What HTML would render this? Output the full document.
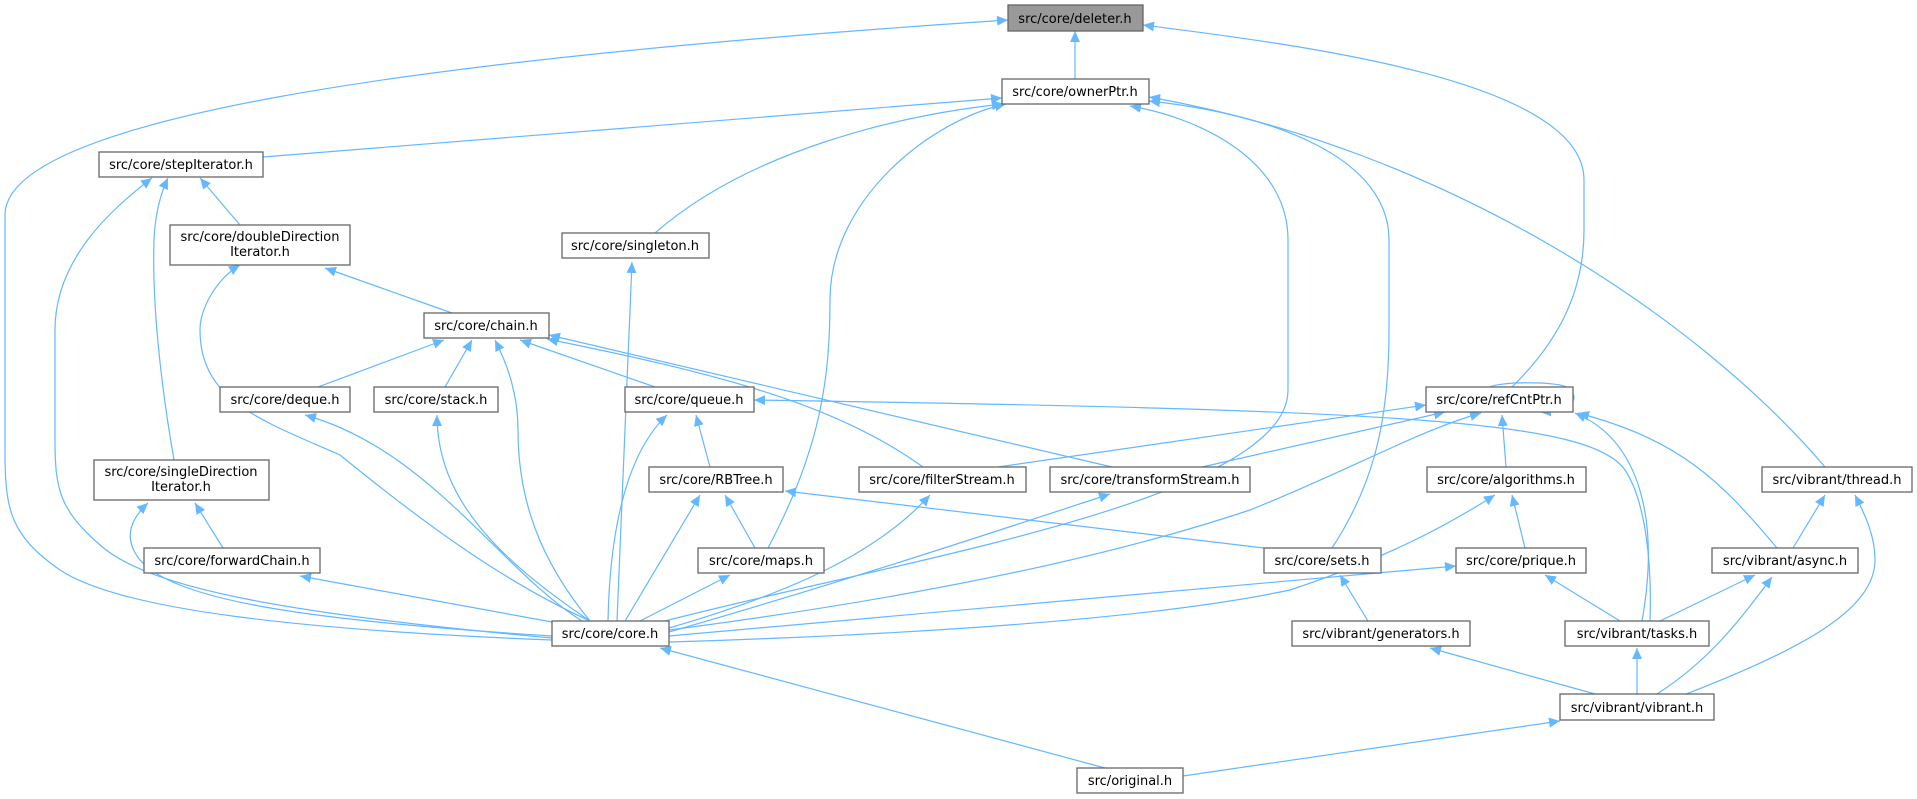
<!DOCTYPE html>
<html><head><meta charset="utf-8"><style>
html,body{margin:0;padding:0;background:#fff;}
svg{display:block}
text{font-family:"DejaVu Sans","Liberation Sans",sans-serif;font-size:13px;fill:#000;text-anchor:middle}
.n{fill:#fff;stroke:#666;stroke-width:1.3}
.e{fill:none;stroke:#63b8ff;stroke-width:1.2}
</style></head><body>
<svg width="1917" height="799" viewBox="0 0 1917 799" xmlns="http://www.w3.org/2000/svg">
<defs><marker id="a" markerWidth="12" markerHeight="10" refX="11" refY="5" orient="auto" markerUnits="userSpaceOnUse"><path d="M0,0 L11,5 L0,10 z" fill="#63b8ff"/></marker></defs>
<g class="e" marker-end="url(#a)">
<path d="M1075,79 L1075,31"/>
<path d="M552,640 C300,630 120,610 60,570 C10,535 5,510 5,450 L5,215 C5,120 400,60 1008,20"/>
<path d="M1512,387 C1560,340 1584,290 1584,230 L1584,180 C1584,80 1300,45 1143,25"/>
<path d="M263,157 L1002,98"/>
<path d="M655,233 C750,150 900,115 1003,104"/>
<path d="M768,548 C820,450 830,380 830,300 C830,200 930,120 1006,104"/>
<path d="M665,621 C900,560 1288,500 1288,390 L1288,240 C1288,160 1200,118 1130,106"/>
<path d="M1332,548 C1370,490 1389,430 1389,330 L1389,240 C1389,160 1280,115 1149,101"/>
<path d="M1825,467 C1700,320 1450,150 1149,97"/>
<path d="M240,225 L200,178"/>
<path d="M174,460 C160,380 152,300 154,240 C155,215 160,195 168,178"/>
<path d="M552,638 C300,615 150,590 100,545 C60,510 55,490 55,440 L55,330 C55,260 110,210 152,178"/>
<path d="M452,313 L325,268"/>
<path d="M590,621 C500,580 420,520 340,455 C260,420 200,400 200,330 C200,310 215,280 240,265"/>
<path d="M617,621 L632,262"/>
<path d="M318,387 L444,340"/>
<path d="M445,387 L472,340"/>
<path d="M655,387 L520,340"/>
<path d="M590,621 C540,560 518,500 518,430 C518,390 505,360 495,340"/>
<path d="M923,467 C830,400 700,370 547,339"/>
<path d="M1112,467 L549,335"/>
<path d="M582,621 C500,570 430,450 305,415"/>
<path d="M590,621 C500,560 437,500 437,415"/>
<path d="M710,467 L696,415"/>
<path d="M608,621 C610,520 630,450 667,415"/>
<path d="M1650,621 C1652,560 1645,500 1625,470 C1590,420 1400,410 754,400"/>
<path d="M1486,389 C1496,380 1560,382 1566,387 C1580,395 1578,410 1540,412"/>
<path d="M998,467 L1426,405"/>
<path d="M1202,467 L1445,412"/>
<path d="M1506,467 L1502,415"/>
<path d="M669,630 C900,600 1100,560 1250,510 C1350,470 1420,430 1481,413"/>
<path d="M1642,621 C1660,520 1640,440 1575,413"/>
<path d="M1777,548 C1720,480 1680,440 1578,413"/>
<path d="M223,548 L195,503"/>
<path d="M552,636 C300,620 175,600 140,560 C120,535 135,515 148,503"/>
<path d="M755,548 L725,495"/>
<path d="M625,621 L700,495"/>
<path d="M1264,548 L785,491"/>
<path d="M669,628 C800,590 880,550 930,495"/>
<path d="M669,632 C850,580 1000,530 1110,494"/>
<path d="M669,642 C900,635 1150,620 1290,590 C1380,560 1440,530 1495,495"/>
<path d="M1525,548 L1512,495"/>
<path d="M1793,548 L1825,495"/>
<path d="M1686,694 C1800,650 1875,610 1875,560 C1875,535 1865,515 1855,495"/>
<path d="M552,622 L300,576"/>
<path d="M640,621 L730,575"/>
<path d="M1368,621 L1340,575"/>
<path d="M669,636 L1456,566"/>
<path d="M1620,621 L1545,575"/>
<path d="M1660,621 L1755,575"/>
<path d="M1657,694 C1710,660 1740,620 1772,577"/>
<path d="M1105,768 L660,648"/>
<path d="M1595,694 L1430,648"/>
<path d="M1637,694 L1637,648"/>
<path d="M1183,776 L1560,721"/>
</g>
<rect x="1008" y="5" width="135" height="26" fill="#999" stroke="#666" stroke-width="1.3"/><text x="1075" y="23">src/core/deleter.h</text>
<rect class="n" x="1002" y="79" width="147" height="25"/><text x="1075" y="96">src/core/ownerPtr.h</text>
<rect class="n" x="99" y="152" width="164" height="25"/><text x="181" y="169">src/core/stepIterator.h</text>
<rect class="n" x="170" y="225" width="180" height="40"/><text x="260" y="241">src/core/doubleDirection</text><text x="260" y="256">Iterator.h</text>
<rect class="n" x="562" y="233" width="147" height="25"/><text x="635" y="250">src/core/singleton.h</text>
<rect class="n" x="424" y="313" width="125" height="25"/><text x="486" y="330">src/core/chain.h</text>
<rect class="n" x="220" y="387" width="130" height="25"/><text x="285" y="404">src/core/deque.h</text>
<rect class="n" x="374" y="387" width="124" height="25"/><text x="436" y="404">src/core/stack.h</text>
<rect class="n" x="625" y="387" width="129" height="25"/><text x="689" y="404">src/core/queue.h</text>
<rect class="n" x="1426" y="387" width="147" height="25"/><text x="1499" y="404">src/core/refCntPtr.h</text>
<rect class="n" x="94" y="460" width="175" height="40"/><text x="181" y="476">src/core/singleDirection</text><text x="181" y="491">Iterator.h</text>
<rect class="n" x="649" y="467" width="134" height="25"/><text x="716" y="484">src/core/RBTree.h</text>
<rect class="n" x="859" y="467" width="167" height="25"/><text x="942" y="484">src/core/filterStream.h</text>
<rect class="n" x="1050" y="467" width="200" height="25"/><text x="1150" y="484">src/core/transformStream.h</text>
<rect class="n" x="1427" y="467" width="159" height="25"/><text x="1506" y="484">src/core/algorithms.h</text>
<rect class="n" x="1762" y="467" width="150" height="25"/><text x="1837" y="484">src/vibrant/thread.h</text>
<rect class="n" x="144" y="548" width="176" height="25"/><text x="232" y="565">src/core/forwardChain.h</text>
<rect class="n" x="698" y="548" width="126" height="25"/><text x="761" y="565">src/core/maps.h</text>
<rect class="n" x="1264" y="548" width="117" height="25"/><text x="1322" y="565">src/core/sets.h</text>
<rect class="n" x="1456" y="548" width="130" height="25"/><text x="1521" y="565">src/core/prique.h</text>
<rect class="n" x="1712" y="548" width="146" height="25"/><text x="1785" y="565">src/vibrant/async.h</text>
<rect class="n" x="552" y="621" width="117" height="25"/><text x="610" y="638">src/core/core.h</text>
<rect class="n" x="1292" y="621" width="178" height="25"/><text x="1381" y="638">src/vibrant/generators.h</text>
<rect class="n" x="1565" y="621" width="144" height="25"/><text x="1637" y="638">src/vibrant/tasks.h</text>
<rect class="n" x="1560" y="694" width="154" height="26"/><text x="1637" y="712">src/vibrant/vibrant.h</text>
<rect class="n" x="1077" y="768" width="106" height="25"/><text x="1130" y="785">src/original.h</text>
</svg>
</body></html>
